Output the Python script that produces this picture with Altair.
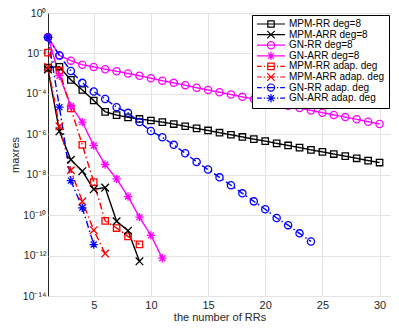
import altair as alt
import pandas as pd

# ---------------- data ----------------
series_names = [
    "MPM-RR deg=8", "MPM-ARR deg=8", "GN-RR deg=8", "GN-ARR deg=8",
    "MPM-RR adap. deg", "MPM-ARR adap. deg", "GN-RR adap. deg", "GN-ARR adap. deg",
]
series_colors = ["#000000", "#000000", "#ff00ff", "#ff00ff",
                 "#ff0000", "#ff0000", "#0000ff", "#0000ff"]
series_markers = ["square", "x", "circle", "star",
                  "square", "x", "circle", "star"]
series_styles = ["solid", "solid", "solid", "solid",
                 "dashdot", "dashdot", "dashdot", "dashdot"]

mpm_rr_deg8 = [2.0e-3, 2.19e-3, 4.9e-4, 1.55e-4, 4.7e-5, 1.29e-5, 8.9e-6, 6.9e-6,
               5.75e-6, 4.8e-6, 4.0e-6, 3.2e-6, 2.5e-6, 1.95e-6, 1.55e-6, 1.2e-6,
               9.5e-7, 7.4e-7, 5.75e-7, 4.6e-7, 3.55e-7, 2.8e-7, 2.2e-7, 1.7e-7,
               1.35e-7, 1.05e-7, 8.3e-8, 6.5e-8, 5.0e-8, 4.0e-8]
mpm_arr_deg8 = [1.6e-3, 1.4e-6, 5.5e-8, 1.5e-8, 1.9e-9, 2.3e-9, 5.0e-11, 1.7e-11, 5.2e-13]
gn_rr_deg8 = [6.3e-2, 7.9e-3, 4.4e-3, 2.75e-3, 2.15e-3, 1.66e-3, 1.32e-3, 1.02e-3,
              7.9e-4, 5.9e-4, 4.5e-4, 3.5e-4, 2.7e-4, 2.0e-4, 1.55e-4, 1.2e-4,
              9.3e-5, 7.1e-5, 5.5e-5, 4.3e-5, 3.3e-5, 2.6e-5, 2.0e-5, 1.5e-5,
              1.17e-5, 9.1e-6, 7.1e-6, 5.5e-6, 4.2e-6, 3.2e-6]
gn_arr_deg8 = [6.3e-2, 7.9e-4, 2.5e-5, 4.0e-6, 2.8e-7, 3.2e-8, 6.2e-9, 8.3e-10,
               7.9e-11, 1.0e-11, 7.4e-13]
mpm_rr_adap = [1.1e-2, 1.4e-3, 1.9e-5, 3.0e-7, 4.3e-9, 5.2e-11, 2.3e-11, 8.9e-12, 3.6e-12]
mpm_arr_adap = [2.1e-3, 2.5e-6, 1.66e-8, 4.8e-10, 1.8e-11, 1.26e-12]
gn_rr_adap = [6.3e-2, 7.9e-3, 1.35e-3, 3.5e-4, 1.3e-4, 5.6e-5, 2.2e-5, 1.15e-5,
              4.0e-6, 1.45e-6, 7.1e-7, 3.0e-7, 1.15e-7, 4.3e-8, 1.8e-8, 7.4e-9,
              3.0e-9, 1.2e-9, 4.8e-10, 1.95e-10, 7.2e-11, 3.2e-11, 1.26e-11, 5.0e-12]
gn_arr_adap = [6.3e-2, 2.2e-5, 5.1e-9, 2.3e-10, 3.5e-12]

series_values = [mpm_rr_deg8, mpm_arr_deg8, gn_rr_deg8, gn_arr_deg8,
                 mpm_rr_adap, mpm_arr_adap, gn_rr_adap, gn_arr_adap]

y_tick_values = [1e0, 1e-2, 1e-4, 1e-6, 1e-8, 1e-10, 1e-12, 1e-14]
y_tick_labels = ["10⁰", "10⁻²", "10⁻⁴", "10⁻⁶", "10⁻⁸", "10⁻¹⁰", "10⁻¹²", "10⁻¹⁴"]
x_tick_values = [5, 10, 15, 20, 25, 30]

# ---------------- build table ----------------
rows = []
for name, vals, mk, st in zip(series_names, series_values, series_markers, series_styles):
    for i, v in enumerate(vals):
        rows.append({"x": i + 1, "y": v, "series": name, "marker": mk, "style": st})
df = pd.DataFrame(rows)

# marker glyphs (unit box -1..1)
marker_paths = {
    "square": "M-0.8,-0.8H0.8V0.8H-0.8Z",
    "x": "M-0.95,-0.95L0.95,0.95M-0.95,0.95L0.95,-0.95",
    "circle": "M-0.9,0A0.9,0.9 0 1,1 0.9,0A0.9,0.9 0 1,1 -0.9,0Z",
    "star": "M-1.05,0H1.05M0,-1.05V1.05M-0.75,-0.75L0.75,0.75M-0.75,0.75L0.75,-0.75",
}
line_paths = {
    "solid": "M-3.5,0H3.5",
    "dashdot": "M-3.5,0H-2.3M-1.8,0H-1.5M-1.0,0H1.0M1.5,0H1.8M2.3,0H3.5",
}
legend_paths = [line_paths[s] + marker_paths[m] for s, m in zip(series_styles, series_markers)]

W, H = 343, 283

xenc = alt.X("x:Q", scale=alt.Scale(domain=[1, 31], nice=False, zero=False),
             axis=alt.Axis(values=x_tick_values, title="the number of RRs",
                           titlePadding=1, labelPadding=3))
label_expr = "[" + ",".join("'%s'" % t for t in y_tick_labels) + "][round(-log(datum.value)/LN10/2)]"
yenc = alt.Y("y:Q", scale=alt.Scale(type="log", domain=[1e-14, 1], nice=False),
             axis=alt.Axis(values=y_tick_values, labelExpr=label_expr, title="maxres",
                           titlePadding=2, labelPadding=2, labelFontSize=10.5))
color_scale = alt.Scale(domain=series_names, range=series_colors)

base = alt.Chart(df)

legend_props = dict(
    title=None, orient="none", legendX=W - 139, legendY=2,
    labelFont="Liberation Sans", labelFontSize=10, labelColor="#000000",
    symbolSize=64, symbolStrokeWidth=1.2, symbolOffset=10, labelOffset=13,
    rowPadding=0.6, clipHeight=10, padding=4, strokeColor="#000000", fillColor="#ffffff",
    cornerRadius=0, symbolFillColor="transparent",
)
legend_layer = base.transform_filter("datum.x < 0").mark_point(
    filled=False, opacity=1, size=64, strokeWidth=1.2
).encode(
    x=xenc, y=yenc,
    color=alt.Color("series:N", scale=color_scale, legend=alt.Legend(**legend_props)),
    shape=alt.Shape("series:N", scale=alt.Scale(domain=series_names, range=legend_paths),
                    legend=alt.Legend(**legend_props)),
)

lines = base.mark_line(strokeWidth=1.4).encode(
    x=xenc, y=yenc,
    color=alt.Color("series:N", scale=color_scale, legend=None),
    strokeDash=alt.StrokeDash("style:N", scale=alt.Scale(domain=["solid", "dashdot"],
                                                         range=[[1, 0], [7, 3, 1.5, 3]]), legend=None),
    detail="series:N",
    order="x:Q",
)

point_layers = []
for m in ["square", "x", "circle", "star"]:
    point_layers.append(
        base.transform_filter(alt.FieldOneOfPredicate(field="marker", oneOf=[m]))
        .mark_point(shape=marker_paths[m], filled=False, size=64, opacity=1, strokeWidth=1.3)
        .encode(x=xenc, y=yenc, color=alt.Color("series:N", scale=color_scale, legend=None))
    )

chart = alt.layer(legend_layer, lines, *point_layers).properties(
    width=W, height=H,
    autosize=alt.AutoSizeParams(type="none"),
    padding={"left": 40, "top": 5, "right": 0, "bottom": 28},
).configure_view(
    stroke="#262626", strokeWidth=1
).configure_axis(
    labelFont="Liberation Sans", labelFontSize=11, labelColor="#262626",
    titleFont="Liberation Sans", titleFontSize=11, titleFontWeight="normal",
    titleColor="#262626", gridColor="#e3e3e3", gridWidth=1,
    domain=False, ticks=False,
)

chart.save("out.html", embed_options={"renderer": "svg", "actions": False})
